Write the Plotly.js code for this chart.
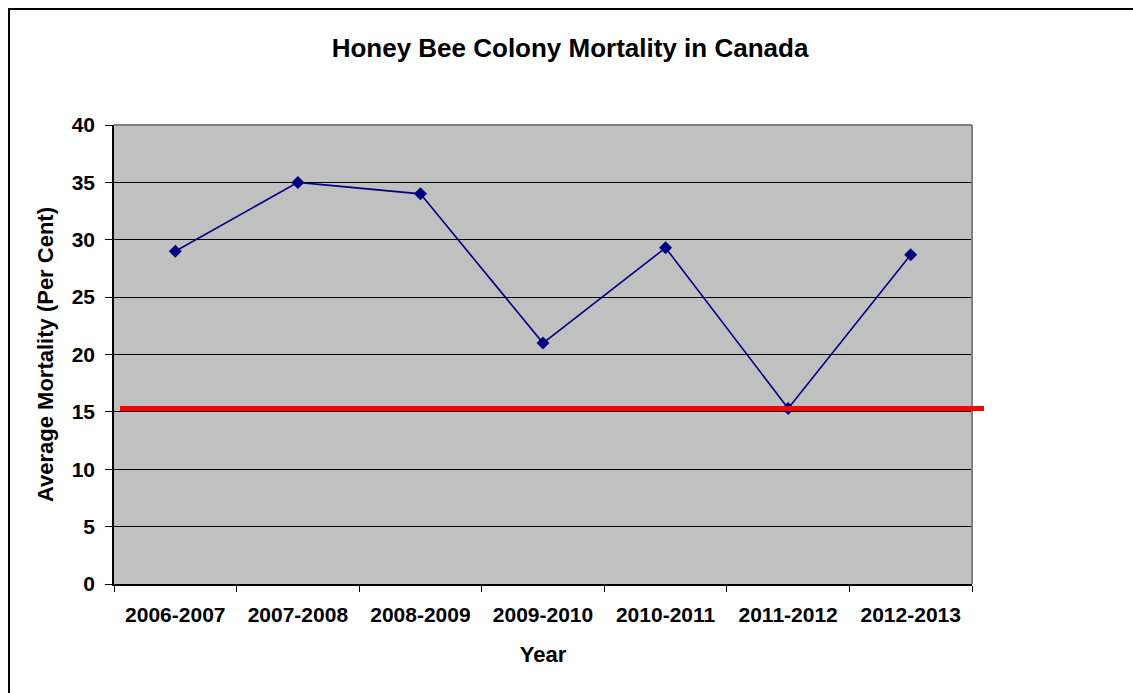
<!DOCTYPE html>
<html>
<head>
<meta charset="utf-8">
<script src="https://cdn.plot.ly/plotly-3.0.1.min.js"></script>
<style>
html,body{margin:0;padding:0;background:#fff;}
#wrap{position:relative;width:1133px;height:693px;overflow:hidden;}
#chart{position:absolute;left:0;top:0;width:1133px;height:693px;}
#frame{position:absolute;left:8px;top:8px;width:1200px;height:800px;border-left:2px solid #000;border-top:2px solid #000;pointer-events:none;}
</style>
</head>
<body>
<div id="wrap"><div id="chart"></div><div id="frame"></div></div>
<script>
const years = ["2006-2007","2007-2008","2008-2009","2009-2010","2010-2011","2011-2012","2012-2013"];
const mortality = [29.0, 35.0, 34.0, 21.0, 29.3, 15.3, 28.7];
const thresholdValue = [15.3];
const yTicks = [0,5,10,15,20,25,30,35,40];

const font = "Liberation Sans, Arial, sans-serif";

const trace = {
  x: years,
  y: mortality,
  type: "scatter",
  mode: "lines+markers",
  line: {color: "#000080", width: 1.6},
  marker: {symbol: "diamond", size: 10, color: "#000080"},
  hoverinfo: "x+y"
};

const layout = {
  width: 1133,
  height: 693,
  margin: {l: 114, r: 161, t: 125, b: 109},
  paper_bgcolor: "#ffffff",
  plot_bgcolor: "#C0C0C0",
  showlegend: false,
  font: {family: font, color: "#000"},
  title: {
    text: "<b>Honey Bee Colony Mortality in Canada</b>",
    font: {family: font, size: 26, color: "#000"},
    xref: "container", x: 570/1133, xanchor: "center",
    yref: "container", y: 1 - 48/693, yanchor: "middle"
  },
  xaxis: {
    type: "category",
    tickson: "boundaries",
    ticks: "outside", ticklen: 6, tickcolor: "#000", tickwidth: 1,
    showline: true, linecolor: "#000", linewidth: 1.5,
    showgrid: false, zeroline: false,
    ticklabelstandoff: 11,
    tickfont: {family: font, size: 21, color: "#000", weight: "bold"},
    title: {text: "<b>Year</b>", font: {family: font, size: 22, color: "#000"}, standoff: 22},
    range: [-0.5, 6.5],
    fixedrange: true
  },
  yaxis: {
    range: [0, 40],
    tickvals: yTicks,
    ticktext: yTicks.map(v => "<b>" + v + "</b>"),
    ticks: "outside", ticklen: 7, tickcolor: "#000", tickwidth: 1,
    showline: true, linecolor: "#000", linewidth: 1.5,
    showgrid: true, gridcolor: "#000", gridwidth: 1.2,
    zeroline: false,
    ticklabelstandoff: 6,
    tickfont: {family: font, size: 21, color: "#000"},
    title: {text: "<b>Average Mortality (Per Cent)</b>", font: {family: font, size: 22, color: "#000"}, standoff: 12},
    fixedrange: true
  },
  shapes: [
    {type: "line", xref: "paper", yref: "paper", x0: 0, x1: 1, y0: 1, y1: 1, line: {color: "#808080", width: 2}},
    {type: "line", xref: "paper", yref: "paper", x0: 1, x1: 1, y0: 0, y1: 1, line: {color: "#808080", width: 2}},
    {type: "line", xref: "paper", yref: "y", x0: 6/858, x1: 870/858, y0: thresholdValue[0], y1: thresholdValue[0], line: {color: "#FF0000", width: 5}}
  ]
};

Plotly.newPlot("chart", [trace], layout, {displayModeBar: false});
</script>
</body>
</html>
